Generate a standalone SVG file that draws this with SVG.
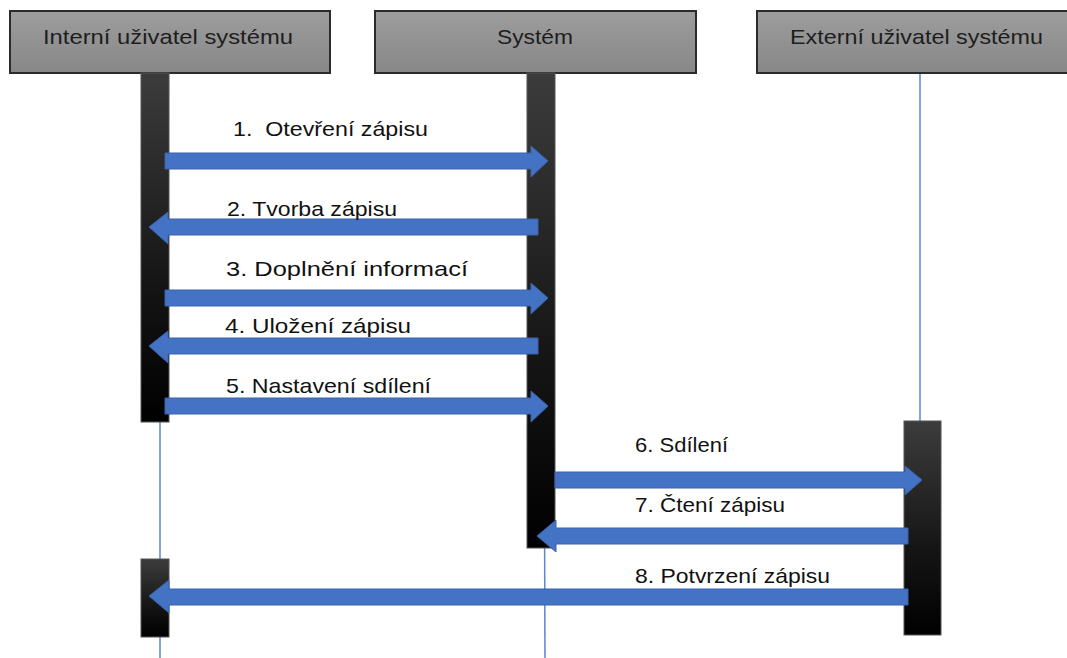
<svg xmlns="http://www.w3.org/2000/svg" width="1067" height="658" viewBox="0 0 1067 658">
  <style>
    .hdr { stroke: #2b2b2b; stroke-width: 2; fill: url(#hdrFill); }
    .hdr-text { font-family: "Liberation Sans", Arial, sans-serif; font-size: 21px; fill: #1e1e1e; }
    .act { stroke: #555; stroke-width: 1; fill: url(#actFill); }
    .life { stroke: #5b86d0; stroke-width: 1.5; fill: none; }
    .msg { fill: #4472c4; stroke: #3a63ad; stroke-width: 1; }
    .lbl { font-family: "Liberation Sans", Arial, sans-serif; font-size: 21px; fill: #111; }
  </style>
  <defs>
    <linearGradient id="hdrFill" x1="0" y1="0" x2="0" y2="1">
      <stop offset="0" stop-color="#9d9d9d"/>
      <stop offset="1" stop-color="#878787"/>
    </linearGradient>
    <linearGradient id="actFill" x1="0" y1="0" x2="0" y2="1">
      <stop offset="0" stop-color="#3c3c3c"/>
      <stop offset="0.6" stop-color="#151515"/>
      <stop offset="1" stop-color="#000"/>
    </linearGradient>
  </defs>

  <rect width="1067" height="658" fill="#fff"/>

  <!-- lifelines -->
  <g id="lifelines">
    <line class="life" x1="160" y1="73" x2="160" y2="658"/>
    <line class="life" x1="543" y1="73" x2="545" y2="658"/>
    <line class="life" x1="920" y1="73" x2="920" y2="421"/>
  </g>

  <!-- participant: internal user -->
  <g id="internal">
    <rect class="hdr" x="10" y="11" width="320" height="62"/>
    <text class="hdr-text" x="43" y="44" textLength="250" lengthAdjust="spacingAndGlyphs">Interní uživatel systému</text>
    <rect class="act" x="141" y="73" width="28" height="349"/>
    <rect class="act" x="141" y="559" width="28" height="78"/>
  </g>

  <!-- participant: system -->
  <g id="system">
    <rect class="hdr" x="375" y="11" width="321" height="62"/>
    <text class="hdr-text" x="497" y="44" textLength="76" lengthAdjust="spacingAndGlyphs">Systém</text>
    <rect class="act" x="527" y="73" width="28" height="475"/>
  </g>

  <!-- participant: external user -->
  <g id="external">
    <rect class="hdr" x="757" y="11" width="320" height="62"/>
    <text class="hdr-text" x="790" y="44" textLength="253" lengthAdjust="spacingAndGlyphs">Externí uživatel systému</text>
    <rect class="act" x="904" y="421" width="37" height="214"/>
  </g>

  <!-- messages -->
  <g id="messages">
    <!-- 1 right -->
    <polygon class="msg" points="165,153 531,153 531,146 548,161 531,177 531,169 165,169"/>
    <!-- 2 left -->
    <polygon class="msg" points="538,219 168,219 168,212 149,227 168,244 168,235 538,235"/>
    <!-- 3 right -->
    <polygon class="msg" points="165,290 531,290 531,283 548,298 531,314 531,306 165,306"/>
    <!-- 4 left -->
    <polygon class="msg" points="538,338 168,338 168,331 149,346 168,363 168,354 538,354"/>
    <!-- 5 right -->
    <polygon class="msg" points="165,398 531,398 531,391 548,406 531,422 531,414 165,414"/>
    <!-- 6 right -->
    <polygon class="msg" points="555,472 905,472 905,466 922,480 905,495 905,488 555,488"/>
    <!-- 7 left -->
    <polygon class="msg" points="908,528 556,528 556,520 537,536 556,552 556,544 908,544"/>
    <!-- 8 left -->
    <polygon class="msg" points="908,589 169,589 169,580 149,596 169,613 169,605 908,605"/>
  </g>

  <!-- message labels -->
  <g id="labels">
    <text class="lbl" x="233" y="136" textLength="195" lengthAdjust="spacingAndGlyphs" xml:space="preserve">1.  Otevření zápisu</text>
    <text class="lbl" x="227" y="216" textLength="170" lengthAdjust="spacingAndGlyphs">2. Tvorba zápisu</text>
    <text class="lbl" x="226" y="276" textLength="242" lengthAdjust="spacingAndGlyphs">3. Doplnění informací</text>
    <text class="lbl" x="225" y="333" textLength="186" lengthAdjust="spacingAndGlyphs">4. Uložení zápisu</text>
    <text class="lbl" x="226" y="393" textLength="205" lengthAdjust="spacingAndGlyphs">5. Nastavení sdílení</text>
    <text class="lbl" x="635" y="452" textLength="93" lengthAdjust="spacingAndGlyphs">6. Sdílení</text>
    <text class="lbl" x="635" y="512" textLength="150" lengthAdjust="spacingAndGlyphs">7. Čtení zápisu</text>
    <text class="lbl" x="635" y="583" textLength="195" lengthAdjust="spacingAndGlyphs">8. Potvrzení zápisu</text>
  </g>
</svg>
